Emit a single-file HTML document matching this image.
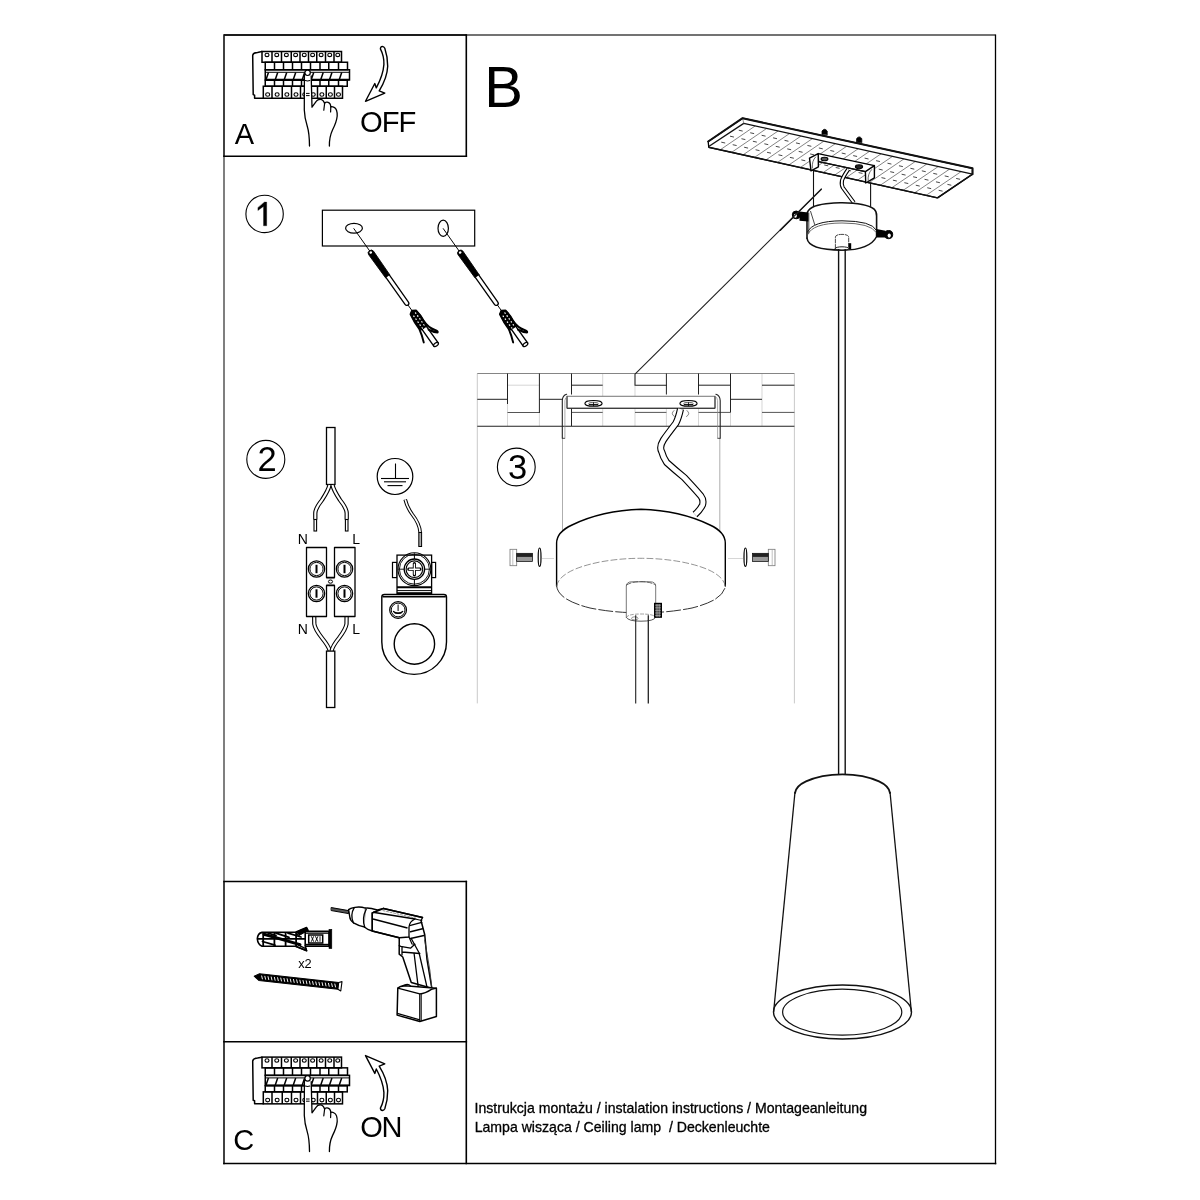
<!DOCTYPE html>
<html><head><meta charset="utf-8"><style>
html,body{margin:0;padding:0;background:#fff;width:1200px;height:1200px;overflow:hidden}
svg{display:block;will-change:transform}
text{font-family:"Liberation Sans",sans-serif;fill:#000;white-space:pre}
</style></head><body>
<svg width="1200" height="1200" viewBox="0 0 1200 1200">
<rect width="1200" height="1200" fill="#fff"/>
<line x1="224.00" y1="35.00" x2="995.50" y2="35.00" stroke="#444" stroke-width="1.3" />
<line x1="224.00" y1="35.00" x2="466.30" y2="35.00" stroke="#000" stroke-width="1.7" />
<line x1="224.00" y1="34.20" x2="224.00" y2="157.00" stroke="#111" stroke-width="1.6" />
<line x1="224.00" y1="156.20" x2="224.00" y2="881.50" stroke="#555" stroke-width="1.5" />
<line x1="224.00" y1="881.50" x2="224.00" y2="1164.30" stroke="#111" stroke-width="1.6" />
<line x1="995.50" y1="34.50" x2="995.50" y2="1164.30" stroke="#000" stroke-width="1.3" />
<line x1="223.20" y1="1163.50" x2="996.30" y2="1163.50" stroke="#000" stroke-width="1.4" />
<line x1="466.30" y1="34.20" x2="466.30" y2="157.00" stroke="#000" stroke-width="1.6" />
<line x1="223.20" y1="156.20" x2="467.10" y2="156.20" stroke="#000" stroke-width="1.6" />
<line x1="223.20" y1="881.50" x2="467.10" y2="881.50" stroke="#000" stroke-width="1.6" />
<line x1="466.30" y1="880.70" x2="466.30" y2="1164.30" stroke="#000" stroke-width="1.6" />
<line x1="223.20" y1="1041.70" x2="467.10" y2="1041.70" stroke="#000" stroke-width="1.6" />
<text x="484.24" y="106.90" font-size="58" >B</text>
<text x="234.64" y="143.70" font-size="29" >A</text>
<text x="360.02" y="131.80" font-size="29.2" letter-spacing="-1">OFF</text>
<text x="233.33" y="1150.40" font-size="29" >C</text>
<text x="360.33" y="1137.00" font-size="29" letter-spacing="-1.5">ON</text>
<text x="474.50" y="1112.90" font-size="14.1" stroke="#000" stroke-width="0.3">Instrukcja montażu / instalation instructions / Montageanleitung</text>
<text x="474.64" y="1131.90" font-size="14.1" stroke="#000" stroke-width="0.3">Lampa wisząca / Ceiling lamp  / Deckenleuchte</text>
<text x="298.16" y="967.50" font-size="12.8" >x2</text>
<text x="297.85" y="543.50" font-size="14" >N</text>
<text x="352.35" y="543.50" font-size="14" >L</text>
<text x="297.85" y="634.00" font-size="14" >N</text>
<text x="352.35" y="634.00" font-size="14" >L</text>
<circle cx="264.60" cy="213.90" r="18.70" fill="none" stroke="#000" stroke-width="1.1" />
<path d="M264.60,202.10 L266.70,202.10 L266.70,225.80 L263.50,225.80 L263.50,206.40 L257.90,210.60 L257.90,207.70 Z" fill="#000" stroke="#000" stroke-width="0.3" stroke-linejoin="round" stroke-linecap="round" />
<circle cx="265.80" cy="459.40" r="19.00" fill="none" stroke="#000" stroke-width="1.1" />
<text x="257.46" y="470.80" font-size="34.5" >2</text>
<circle cx="516.30" cy="467.00" r="18.90" fill="none" stroke="#000" stroke-width="1.1" />
<text x="507.89" y="479.00" font-size="34.5" >3</text>
<path d="M257.3,938.8 Q257.8,933.4 262,932.4 L295.4,932.2 L306.6,927.6 L308,930.4 L305.2,931.4 L329,931.4 L329,946.1 L305.2,946.1 L306.6,950.7 L295.4,946.3 L262,946.2 Q257.8,944.6 257.3,938.8 Z" fill="#fff" stroke="#000" stroke-width="1.6" stroke-linejoin="round" stroke-linecap="round" />
<line x1="257.60" y1="938.80" x2="305.20" y2="938.80" stroke="#000" stroke-width="1.8" />
<line x1="263.20" y1="932.60" x2="263.20" y2="946.00" stroke="#000" stroke-width="1.8" />
<line x1="274.40" y1="932.60" x2="274.40" y2="946.00" stroke="#000" stroke-width="1.8" />
<line x1="285.60" y1="932.60" x2="285.60" y2="946.00" stroke="#000" stroke-width="1.8" />
<line x1="296.10" y1="932.60" x2="296.10" y2="946.00" stroke="#000" stroke-width="1.8" />
<path d="M264,934.2 L300,944.6" fill="none" stroke="#000" stroke-width="3.0" stroke-linejoin="round" stroke-linecap="round" />
<path d="M262.5,941.5 L275,945.2 M276,933.2 L289,937.4 M288,933.2 L301,937 M268,933 L276,935.6" fill="none" stroke="#000" stroke-width="1.8" stroke-linejoin="round" stroke-linecap="round" />
<path d="M296,932.2 L306.6,927.6 L308,930.4 L299,935.6 Z" fill="#000" stroke="#000" stroke-width="1.0" stroke-linejoin="round" stroke-linecap="round" />
<path d="M296,946.3 L306.6,950.7 M298,944.8 L306.2,948.8" fill="none" stroke="#000" stroke-width="1.4" stroke-linejoin="round" stroke-linecap="round" />
<line x1="305.20" y1="931.40" x2="305.20" y2="946.10" stroke="#000" stroke-width="1.6" />
<rect x="308.70" y="935.00" width="14.00" height="8.00" fill="none" stroke="#000" stroke-width="1.5" />
<path d="M311.4,936.6 L313.6,941.4 M313.6,936.6 L311.4,941.4 M315.6,936.6 L317.8,941.4 M317.8,936.6 L315.6,941.4 M320,936.6 L320,941.4" fill="none" stroke="#000" stroke-width="0.9" stroke-linejoin="round" stroke-linecap="round" />
<line x1="305.20" y1="933.20" x2="329.00" y2="933.20" stroke="#000" stroke-width="1.2" />
<line x1="305.20" y1="944.40" x2="329.00" y2="944.40" stroke="#000" stroke-width="1.2" />
<rect x="329.00" y="929.30" width="2.80" height="19.30" fill="#000" stroke="#000" stroke-width="0.6" />
<g transform="translate(259.2,977.1) rotate(6.312)">
<path d="M-5.1,-0.3 L0,-3.3 L79.6,-3.3 L79.6,3.3 L0,3.3 Z" fill="#000" stroke="#000" stroke-width="1.0" stroke-linejoin="round" stroke-linecap="round" />
<path d="M2.20,-1.8 L3.50,1.8" stroke="#fff" stroke-width="0.9"/>
<path d="M5.40,-1.8 L6.70,1.8" stroke="#fff" stroke-width="0.9"/>
<path d="M8.60,-1.8 L9.90,1.8" stroke="#fff" stroke-width="0.9"/>
<path d="M11.80,-1.8 L13.10,1.8" stroke="#fff" stroke-width="0.9"/>
<path d="M15.00,-1.8 L16.30,1.8" stroke="#fff" stroke-width="0.9"/>
<path d="M18.20,-1.8 L19.50,1.8" stroke="#fff" stroke-width="0.9"/>
<path d="M21.40,-1.8 L22.70,1.8" stroke="#fff" stroke-width="0.9"/>
<path d="M24.60,-1.8 L25.90,1.8" stroke="#fff" stroke-width="0.9"/>
<path d="M27.80,-1.8 L29.10,1.8" stroke="#fff" stroke-width="0.9"/>
<path d="M31.00,-1.8 L32.30,1.8" stroke="#fff" stroke-width="0.9"/>
<path d="M34.20,-1.8 L35.50,1.8" stroke="#fff" stroke-width="0.9"/>
<path d="M37.40,-1.8 L38.70,1.8" stroke="#fff" stroke-width="0.9"/>
<path d="M40.60,-1.8 L41.90,1.8" stroke="#fff" stroke-width="0.9"/>
<path d="M43.80,-1.8 L45.10,1.8" stroke="#fff" stroke-width="0.9"/>
<path d="M47.00,-1.8 L48.30,1.8" stroke="#fff" stroke-width="0.9"/>
<path d="M50.20,-1.8 L51.50,1.8" stroke="#fff" stroke-width="0.9"/>
<path d="M53.40,-1.8 L54.70,1.8" stroke="#fff" stroke-width="0.9"/>
<path d="M56.60,-1.8 L57.90,1.8" stroke="#fff" stroke-width="0.9"/>
<path d="M59.80,-1.8 L61.10,1.8" stroke="#fff" stroke-width="0.9"/>
<path d="M63.00,-1.8 L64.30,1.8" stroke="#fff" stroke-width="0.9"/>
<path d="M66.20,-1.8 L67.50,1.8" stroke="#fff" stroke-width="0.9"/>
<path d="M69.40,-1.8 L70.70,1.8" stroke="#fff" stroke-width="0.9"/>
<path d="M72.60,-1.8 L73.90,1.8" stroke="#fff" stroke-width="0.9"/>
<path d="M75.80,-1.8 L77.10,1.8" stroke="#fff" stroke-width="0.9"/>
<path d="M79.6,-3.4 L82.8,-4.6 L82.6,4.8 L79.6,3.4 Z" fill="#fff" stroke="#000" stroke-width="1.1" stroke-linejoin="round" stroke-linecap="round" />
</g>
<path d="M331.5,907.6 L348.6,910.6 L348.6,913.6 L331.5,910.6 Z" fill="#555" stroke="#000" stroke-width="1.0" stroke-linejoin="round" stroke-linecap="round" />
<path d="M348.6,909.6 Q350,908.4 355,907.4 Q360,906.4 365.5,908.1 L365.5,927.2 Q358,925.6 353.5,922.8 Q349.8,920 349.75,916.75 Z" fill="#fff" stroke="#000" stroke-width="1.4" stroke-linejoin="round" stroke-linecap="round" />
<path d="M354.25,907.6 Q349.8,915 353.5,923" fill="none" stroke="#000" stroke-width="1.3" stroke-linejoin="round" stroke-linecap="round" />
<path d="M365.5,908.1 Q369,907.4 377.5,910 L383.5,908.5 L372.25,913 L372.25,931 Q367,929.4 364.75,927.25" fill="#fff" stroke="#000" stroke-width="1.4" stroke-linejoin="round" stroke-linecap="round" />
<path d="M366.25,909.25 Q361.6,918 364.75,927.25" fill="none" stroke="#000" stroke-width="1.3" stroke-linejoin="round" stroke-linecap="round" />
<path d="M372.25,913.00 L383.50,908.50 L422.50,917.50 L421.00,920.50 L424.75,934.75 L427.00,959.50 L431.80,988.20 L411.25,982.50 L402.75,957.00 L399.20,954.20 L399.25,937.75 L372.25,931.00 Z" fill="#fff" stroke="#000" stroke-width="1.5" stroke-linejoin="round" stroke-linecap="round" />
<line x1="373.00" y1="912.25" x2="415.00" y2="919.00" stroke="#000" stroke-width="1.3" />
<line x1="373.00" y1="919.00" x2="407.50" y2="928.00" stroke="#000" stroke-width="1.3" />
<line x1="372.25" y1="931.00" x2="399.25" y2="937.75" stroke="#000" stroke-width="1.3" />
<path d="M383.5,908.5 L422.5,917.5" fill="none" stroke="#000" stroke-width="1.3" stroke-linejoin="round" stroke-linecap="round" />
<path d="M383,910.6 L416,918.2" fill="none" stroke="#666" stroke-width="0.7" stroke-linejoin="round" stroke-linecap="round" stroke-dasharray="2 1.6"/>
<path d="M415,919 Q409.4,921.6 409,927 L409,937 L399.25,937.75" fill="none" stroke="#000" stroke-width="1.3" stroke-linejoin="round" stroke-linecap="round" />
<path d="M415,919 L421.75,920.5" fill="none" stroke="#000" stroke-width="1.2" stroke-linejoin="round" stroke-linecap="round" />
<path d="M409.6,925.6 L421.75,922.4 M410.5,931.75 L422.5,928.75 M410.5,938.5 L424,935.5" fill="none" stroke="#000" stroke-width="1.3" stroke-linejoin="round" stroke-linecap="round" />
<path d="M409,937 L412,944 L414.8,944.25" fill="none" stroke="#000" stroke-width="1.2" stroke-linejoin="round" stroke-linecap="round" />
<path d="M399.2,945.6 L402,947 L402,954.9 M400.6,946.4 L410.5,948.2 L414.8,944.25 M402,952 L419.8,953.5" fill="none" stroke="#000" stroke-width="1.3" stroke-linejoin="round" stroke-linecap="round" />
<path d="M411.25,938.5 L419.05,952.75 L427.6,989.6 M414.1,953.5 L418.35,988.2" fill="none" stroke="#000" stroke-width="1.3" stroke-linejoin="round" stroke-linecap="round" />
<path d="M424.7,940 L429.8,970 L431.6,986.4" fill="none" stroke="#333" stroke-width="0.9" stroke-linejoin="round" stroke-linecap="round" />
<path d="M397.80,988.20 L400.60,986.40 L405.00,985.80 L411.25,986.20 L436.40,988.20 L436.40,1016.50 L419.80,1021.50 L397.10,1015.10 Z" fill="#fff" stroke="#000" stroke-width="1.5" stroke-linejoin="round" stroke-linecap="round" />
<path d="M397.8,988.2 L419.8,993.9 Q425,993.6 431.4,989.4 L436.4,988.2" fill="none" stroke="#000" stroke-width="1.3" stroke-linejoin="round" stroke-linecap="round" />
<line x1="419.80" y1="993.90" x2="419.80" y2="1021.50" stroke="#000" stroke-width="1.3" />
<line x1="421.30" y1="993.60" x2="421.30" y2="1021.00" stroke="#000" stroke-width="0.9" />
<line x1="397.20" y1="1013.40" x2="419.80" y2="1019.80" stroke="#000" stroke-width="1.2" />
<path d="M402,986.1 Q408,982.8 410.5,986" fill="none" stroke="#000" stroke-width="1.2" stroke-linejoin="round" stroke-linecap="round" />
<path d="M742.60,118.20 L972.50,168.30 L972.50,174.20 L937.50,197.90 L708.75,147.30 L708.20,141.50 Z" fill="#fff" stroke="#000" stroke-width="1.3" stroke-linejoin="round" stroke-linecap="round" />
<line x1="755.19" y1="125.94" x2="720.19" y2="149.83" stroke="#333" stroke-width="0.6" />
<line x1="766.62" y1="128.48" x2="731.62" y2="152.36" stroke="#333" stroke-width="0.6" />
<line x1="778.06" y1="131.02" x2="743.06" y2="154.89" stroke="#333" stroke-width="0.6" />
<line x1="789.50" y1="133.56" x2="754.50" y2="157.42" stroke="#333" stroke-width="0.6" />
<line x1="800.94" y1="136.10" x2="765.94" y2="159.95" stroke="#333" stroke-width="0.6" />
<line x1="812.38" y1="138.64" x2="777.38" y2="162.48" stroke="#333" stroke-width="0.6" />
<line x1="823.81" y1="141.18" x2="788.81" y2="165.01" stroke="#333" stroke-width="0.6" />
<line x1="835.25" y1="143.72" x2="800.25" y2="167.54" stroke="#333" stroke-width="0.6" />
<line x1="846.69" y1="146.26" x2="811.69" y2="170.07" stroke="#333" stroke-width="0.6" />
<line x1="858.12" y1="148.80" x2="823.12" y2="172.60" stroke="#333" stroke-width="0.6" />
<line x1="869.56" y1="151.34" x2="834.56" y2="175.13" stroke="#333" stroke-width="0.6" />
<line x1="881.00" y1="153.88" x2="846.00" y2="177.66" stroke="#333" stroke-width="0.6" />
<line x1="892.44" y1="156.42" x2="857.44" y2="180.19" stroke="#333" stroke-width="0.6" />
<line x1="903.88" y1="158.96" x2="868.88" y2="182.72" stroke="#333" stroke-width="0.6" />
<line x1="915.31" y1="161.50" x2="880.31" y2="185.25" stroke="#333" stroke-width="0.6" />
<line x1="926.75" y1="164.04" x2="891.75" y2="187.78" stroke="#333" stroke-width="0.6" />
<line x1="938.19" y1="166.58" x2="903.19" y2="190.31" stroke="#333" stroke-width="0.6" />
<line x1="949.62" y1="169.12" x2="914.62" y2="192.84" stroke="#333" stroke-width="0.6" />
<line x1="961.06" y1="171.66" x2="926.06" y2="195.37" stroke="#333" stroke-width="0.6" />
<line x1="735.00" y1="129.38" x2="963.75" y2="180.12" stroke="#333" stroke-width="0.9" stroke-dasharray="4 7.72" stroke-dashoffset="7.86"/>
<line x1="726.25" y1="135.35" x2="955.00" y2="186.05" stroke="#333" stroke-width="0.9" stroke-dasharray="4 7.72" stroke-dashoffset="7.86"/>
<line x1="717.50" y1="141.33" x2="946.25" y2="191.97" stroke="#333" stroke-width="0.9" stroke-dasharray="4 7.72" stroke-dashoffset="7.86"/>
<path d="M709.5,146 L743.75,123.4 L972.5,174.2" fill="none" stroke="#111" stroke-width="1.3" stroke-linejoin="round" stroke-linecap="round" />
<line x1="742.60" y1="118.20" x2="743.75" y2="123.40" stroke="#777" stroke-width="0.8" />
<path d="M708.2,141.5 L742.6,118.2 L972.5,168.3 L972.5,174.2" fill="none" stroke="#111" stroke-width="2.0" stroke-linejoin="round" stroke-linecap="round" />
<line x1="708.75" y1="147.30" x2="937.50" y2="197.90" stroke="#111" stroke-width="1.4" />
<line x1="972.50" y1="174.20" x2="937.50" y2="197.90" stroke="#111" stroke-width="1.4" />
<path d="M822.0,134.2 L822.0,131.0 Q824.6,127.6 827.2,131.0 L827.2,134.79999999999998 Z" fill="#000" stroke="#000" stroke-width="0.8" stroke-linejoin="round" stroke-linecap="round" />
<path d="M856.6,141.8 L856.6,138.60000000000002 Q859.2,135.20000000000002 861.8000000000001,138.60000000000002 L861.8000000000001,142.4 Z" fill="#000" stroke="#000" stroke-width="0.8" stroke-linejoin="round" stroke-linecap="round" />
<path d="M818.20,153.60 L874.40,165.60 L874.40,171.20 L865.40,171.60 L818.60,161.60 Z" fill="#fff" stroke="#000" stroke-width="1.3" stroke-linejoin="round" stroke-linecap="round" />
<line x1="818.60" y1="161.60" x2="865.40" y2="171.60" stroke="#111" stroke-width="1.3" />
<path d="M809.50,158.20 L818.20,153.60 L818.40,166.80 L811.00,170.80 Z" fill="#fff" stroke="#000" stroke-width="1.4" stroke-linejoin="round" stroke-linecap="round" />
<path d="M812.4,168 Q811.6,161 815.6,157" fill="none" stroke="#444" stroke-width="0.8" stroke-linejoin="round" stroke-linecap="round" />
<path d="M865.40,171.60 L874.40,165.60 L874.40,177.80 L865.70,183.00 Z" fill="#fff" stroke="#000" stroke-width="1.4" stroke-linejoin="round" stroke-linecap="round" />
<path d="M868.2,181 Q867.4,174 871.6,169.6" fill="none" stroke="#444" stroke-width="0.8" stroke-linejoin="round" stroke-linecap="round" />
<ellipse cx="824.50" cy="159.00" rx="3.40" ry="1.80" fill="#555" stroke="#000" stroke-width="1.1" />
<ellipse cx="859.00" cy="166.80" rx="3.60" ry="1.90" fill="#222" stroke="#000" stroke-width="1.1" />
<line x1="813.50" y1="170.60" x2="813.50" y2="232.00" stroke="#111" stroke-width="1.1" />
<line x1="870.60" y1="182.80" x2="870.60" y2="207.00" stroke="#111" stroke-width="1.1" />
<path d="M848.3,169.2 Q843.5,176 842,180.4 Q841.2,185 842.8,187.6 L853.8,202.6" fill="none" stroke="#000" stroke-width="4.1" stroke-linecap="butt" stroke-linejoin="round"/>
<path d="M848.3,169.2 Q843.5,176 842,180.4 Q841.2,185 842.8,187.6 L853.8,202.6" fill="none" stroke="#fff" stroke-width="1.9" stroke-linecap="butt" stroke-linejoin="round"/>
<line x1="821.50" y1="189.00" x2="780.00" y2="230.50" stroke="#111" stroke-width="1.1" />
<path d="M807,215 Q807.5,202.8 842.2,202.8 Q876.6,202.8 876.6,215 L876.6,238 Q876.6,250 842,250 Q807,250 807,238 Z" fill="#fff" stroke="none"/>
<path d="M807,238.2 L807,214 Q808,206 826,203.8 Q836,202.6 842.2,202.8 Q866,203.2 874,209 Q876.8,211.5 876.6,216 L876.6,236" fill="none" stroke="#111" stroke-width="1.6" stroke-linejoin="round" stroke-linecap="round" />
<path d="M807,238.2 Q808.4,250 842,250.2 Q870,250 876.6,236.5" fill="none" stroke="#111" stroke-width="1.5" stroke-linejoin="round" stroke-linecap="round" />
<path d="M807.6,232 Q812,221 842,220.8 Q872,221 876.2,230" fill="none" stroke="#111" stroke-width="1.0" stroke-linejoin="round" stroke-linecap="round" />
<path d="M807.8,234.4 Q812.4,223.2 842,223 Q871,223.2 876,232.2" fill="none" stroke="#444" stroke-width="0.8" stroke-linejoin="round" stroke-linecap="round" />
<path d="M810.6,211.4 L814.7,224.6 M808.8,213 L808.8,233" fill="none" stroke="#333" stroke-width="0.9" stroke-linejoin="round" stroke-linecap="round" />
<path d="M835.4,248.5 L835.4,237 Q835.6,234.4 842,234.4 Q848.6,234.4 848.7,237 L848.7,247" fill="none" stroke="#333" stroke-width="0.9" stroke-linejoin="round" stroke-linecap="round" stroke-dasharray="4 1.5"/>
<ellipse cx="842.00" cy="248.60" rx="6.80" ry="1.80" fill="none" stroke="#222" stroke-width="1.0" />
<rect x="848.60" y="243.20" width="2.60" height="6.20" fill="#000" stroke="#000" stroke-width="0" />
<line x1="838.60" y1="249.00" x2="838.60" y2="774.80" stroke="#111" stroke-width="1.4" />
<line x1="845.20" y1="249.00" x2="845.20" y2="774.80" stroke="#111" stroke-width="1.4" />
<path d="M799.5,211.6 L808.4,212.4 L808.4,221.4 L799.5,220.8 Z" fill="#000"/>
<circle cx="796.20" cy="214.90" r="3.90" fill="#000" stroke="#000" stroke-width="1.0" />
<ellipse cx="795.40" cy="215.80" rx="1.50" ry="2.00" fill="#fff" stroke="#000" stroke-width="0" />
<line x1="780.00" y1="230.50" x2="793.00" y2="217.50" stroke="#111" stroke-width="1.1" />
<path d="M876.4,229 L885.6,230.8 L885.6,237.4 L876.4,237.6 Z" fill="#000"/>
<circle cx="888.60" cy="234.60" r="4.10" fill="#000" stroke="#000" stroke-width="1.0" />
<ellipse cx="889.20" cy="235.60" rx="1.60" ry="2.10" fill="#fff" stroke="#000" stroke-width="0" />
<path d="M795,793 Q796,786 806,781.4 Q821,774.6 842.5,774.4 Q864,774.6 879,781.4 Q889,786 890,793" fill="#fff" stroke="#111" stroke-width="1.8" stroke-linejoin="round" stroke-linecap="round" />
<line x1="795.00" y1="792.00" x2="773.60" y2="1012.00" stroke="#111" stroke-width="1.3" />
<line x1="890.00" y1="792.00" x2="911.40" y2="1012.00" stroke="#111" stroke-width="1.3" />
<ellipse cx="842.50" cy="1012.00" rx="69.00" ry="27.00" fill="none" stroke="#111" stroke-width="1.4" />
<ellipse cx="842.20" cy="1012.20" rx="59.60" ry="23.00" fill="none" stroke="#111" stroke-width="1.2" />
<line x1="477.30" y1="373.50" x2="477.30" y2="703.40" stroke="#bbb" stroke-width="0.8" />
<line x1="794.40" y1="373.50" x2="794.40" y2="703.40" stroke="#bbb" stroke-width="0.8" />
<line x1="507.50" y1="404.00" x2="507.50" y2="426.00" stroke="#c4c4c4" stroke-width="0.7" />
<line x1="507.50" y1="385.20" x2="539.40" y2="385.20" stroke="#c4c4c4" stroke-width="0.7" />
<line x1="539.40" y1="413.00" x2="539.40" y2="426.00" stroke="#c4c4c4" stroke-width="0.7" />
<line x1="602.70" y1="373.50" x2="602.70" y2="426.00" stroke="#c4c4c4" stroke-width="0.7" />
<line x1="571.50" y1="408.00" x2="571.50" y2="426.00" stroke="#c4c4c4" stroke-width="0.7" />
<line x1="666.40" y1="408.00" x2="666.40" y2="426.00" stroke="#c4c4c4" stroke-width="0.7" />
<line x1="698.50" y1="408.00" x2="698.50" y2="426.00" stroke="#c4c4c4" stroke-width="0.7" />
<line x1="730.50" y1="412.50" x2="730.50" y2="426.00" stroke="#c4c4c4" stroke-width="0.7" />
<line x1="762.00" y1="373.50" x2="762.00" y2="426.00" stroke="#c4c4c4" stroke-width="0.7" />
<line x1="603.00" y1="399.30" x2="635.00" y2="399.30" stroke="#c4c4c4" stroke-width="0.7" />
<line x1="635.00" y1="385.20" x2="635.00" y2="426.00" stroke="#c4c4c4" stroke-width="0.7" />
<line x1="477.30" y1="373.50" x2="794.40" y2="373.50" stroke="#777" stroke-width="0.9" />
<line x1="477.30" y1="426.20" x2="794.40" y2="426.20" stroke="#222" stroke-width="1.1" />
<line x1="507.50" y1="373.50" x2="507.50" y2="404.00" stroke="#222" stroke-width="1.0" />
<line x1="477.30" y1="399.30" x2="507.50" y2="399.30" stroke="#222" stroke-width="1.0" />
<line x1="507.50" y1="412.50" x2="539.40" y2="412.50" stroke="#555" stroke-width="1.0" />
<line x1="539.40" y1="373.50" x2="539.40" y2="413.00" stroke="#222" stroke-width="1.0" />
<line x1="539.40" y1="399.30" x2="562.30" y2="399.30" stroke="#222" stroke-width="1.0" />
<line x1="571.50" y1="373.50" x2="571.50" y2="394.50" stroke="#222" stroke-width="1.0" />
<line x1="571.50" y1="385.20" x2="602.70" y2="385.20" stroke="#222" stroke-width="1.0" />
<line x1="571.50" y1="412.40" x2="602.70" y2="412.40" stroke="#555" stroke-width="1.0" />
<line x1="635.00" y1="412.40" x2="666.40" y2="412.40" stroke="#555" stroke-width="1.0" />
<line x1="666.40" y1="373.50" x2="666.40" y2="394.50" stroke="#222" stroke-width="1.0" />
<line x1="698.50" y1="373.50" x2="698.50" y2="394.50" stroke="#222" stroke-width="1.0" />
<line x1="698.50" y1="385.20" x2="730.50" y2="385.20" stroke="#222" stroke-width="1.0" />
<line x1="730.50" y1="373.50" x2="730.50" y2="412.50" stroke="#222" stroke-width="1.0" />
<line x1="730.50" y1="399.30" x2="762.00" y2="399.30" stroke="#222" stroke-width="1.0" />
<line x1="762.00" y1="385.20" x2="794.40" y2="385.20" stroke="#222" stroke-width="1.0" />
<line x1="698.50" y1="412.40" x2="730.50" y2="412.40" stroke="#555" stroke-width="1.0" />
<line x1="762.00" y1="412.40" x2="794.40" y2="412.40" stroke="#555" stroke-width="1.0" />
<line x1="571.50" y1="408.30" x2="571.50" y2="426.00" stroke="#222" stroke-width="1.0" />
<path d="M821.5,189 L635,374.2 L635,385.2 L666.4,385.2" fill="none" stroke="#222" stroke-width="1.1" stroke-linejoin="round" stroke-linecap="round" />
<line x1="562.50" y1="438.00" x2="562.50" y2="546.00" stroke="#999" stroke-width="0.8" />
<line x1="719.80" y1="438.00" x2="719.80" y2="546.00" stroke="#999" stroke-width="0.8" />
<rect x="567.00" y="396.25" width="148.00" height="12.00" fill="#fff" stroke="#666" stroke-width="0.9" />
<line x1="567.00" y1="408.25" x2="715.00" y2="408.25" stroke="#222" stroke-width="1.2" />
<line x1="567.00" y1="396.25" x2="567.00" y2="408.25" stroke="#333" stroke-width="1.0" />
<line x1="715.00" y1="396.25" x2="715.00" y2="408.25" stroke="#333" stroke-width="1.0" />
<path d="M562.3,438.3 L562.3,400.5 Q562.6,395.2 566.6,394.2" fill="none" stroke="#222" stroke-width="1.1" stroke-linejoin="round" stroke-linecap="round" />
<path d="M564.9,438.3 L564.9,400.6 Q565.3,397.2 567,396.4" fill="none" stroke="#888" stroke-width="0.7" stroke-linejoin="round" stroke-linecap="round" />
<line x1="562.30" y1="438.30" x2="564.90" y2="438.30" stroke="#333" stroke-width="0.9" />
<path d="M720.2,438.3 L720.2,400.5 Q719.9,395.2 715.9,394.2" fill="none" stroke="#222" stroke-width="1.1" stroke-linejoin="round" stroke-linecap="round" />
<path d="M717.6,438.3 L717.6,400.6 Q717.2,397.2 715.5,396.4" fill="none" stroke="#888" stroke-width="0.7" stroke-linejoin="round" stroke-linecap="round" />
<line x1="717.60" y1="438.30" x2="720.20" y2="438.30" stroke="#333" stroke-width="0.9" />
<ellipse cx="593.50" cy="403.40" rx="8.60" ry="2.90" fill="none" stroke="#000" stroke-width="1.1" />
<ellipse cx="593.50" cy="403.90" rx="5.00" ry="1.60" fill="none" stroke="#333" stroke-width="0.7" />
<line x1="589.00" y1="404.40" x2="598.00" y2="404.40" stroke="#000" stroke-width="1.0" />
<line x1="593.50" y1="402.20" x2="593.50" y2="406.20" stroke="#000" stroke-width="0.8" />
<ellipse cx="688.50" cy="403.40" rx="8.60" ry="2.90" fill="none" stroke="#000" stroke-width="1.1" />
<ellipse cx="688.50" cy="403.90" rx="5.00" ry="1.60" fill="none" stroke="#333" stroke-width="0.7" />
<line x1="684.00" y1="404.40" x2="693.00" y2="404.40" stroke="#000" stroke-width="1.0" />
<line x1="688.50" y1="402.20" x2="688.50" y2="406.20" stroke="#000" stroke-width="0.8" />
<path d="M680.5,409 Q678.6,418 675.8,423.3 Q666,436 663.4,440 Q659,447 661.7,451.7 Q663,457 666.7,462.5 Q675,470 684.2,477.5 Q694,488 700.8,495.8 Q704,500 702.5,505 Q700,510 695,514.5" fill="none" stroke="#000" stroke-width="7.1" stroke-linecap="butt" stroke-linejoin="round"/>
<path d="M680.5,409 Q678.6,418 675.8,423.3 Q666,436 663.4,440 Q659,447 661.7,451.7 Q663,457 666.7,462.5 Q675,470 684.2,477.5 Q694,488 700.8,495.8 Q704,500 702.5,505 Q700,510 695,514.5" fill="none" stroke="#fff" stroke-width="4.9" stroke-linecap="butt" stroke-linejoin="round"/>
<path d="M674,410.5 Q670,414 674.5,416.5 M687,410.5 Q691,414 686.5,416.5" fill="none" stroke="#666" stroke-width="0.8" stroke-linejoin="round" stroke-linecap="round" />
<path d="M556.6,586 L556.6,543 Q556.8,532 572,525 Q602,510.5 641,509.3 Q680,510.5 710,525 Q725.2,532 725.3,543 L725.3,586" fill="#fff" stroke="#000" stroke-width="1.4" stroke-linejoin="round" stroke-linecap="round" />
<path d="M556.6,586 Q558,600 590,608 Q615,613 641,612.8 Q667,613 692,608 Q724,600 725.3,586" fill="none" stroke="#333" stroke-width="1.0" stroke-linejoin="round" stroke-linecap="round" stroke-dasharray="14 3"/>
<path d="M556.6,586 Q560,570 600,562 Q620,558.3 641,558.3 Q662,558.3 682,562 Q722,570 725.3,586" fill="none" stroke="#666" stroke-width="0.7" stroke-linejoin="round" stroke-linecap="round" stroke-dasharray="6 3"/>
<rect x="626.3" y="581.7" width="29.4" height="36" fill="#fff" stroke="none"/>
<path d="M626.3,617 L626.3,586 Q626.5,581.8 632,581.8 L650,581.8 Q655.6,581.8 655.7,586 L655.7,617" fill="none" stroke="#555" stroke-width="0.8" stroke-linejoin="round" stroke-linecap="round" />
<path d="M626.5,585 Q632,581.6 641,581.6 Q650,581.6 655.5,585" fill="none" stroke="#444" stroke-width="0.8" stroke-linejoin="round" stroke-linecap="round" stroke-dasharray="5 2"/>
<path d="M626.3,617.4 Q628,621.2 641,621.2 Q654,621.2 655.7,617.4" fill="none" stroke="#444" stroke-width="0.9" stroke-linejoin="round" stroke-linecap="round" />
<path d="M626.3,617.4 Q628,614 641,614 Q654,614 655.7,617.4" fill="none" stroke="#777" stroke-width="0.7" stroke-linejoin="round" stroke-linecap="round" stroke-dasharray="3 2"/>
<ellipse cx="634.80" cy="618.40" rx="3.20" ry="1.60" fill="none" stroke="#666" stroke-width="0.7" />
<rect x="654.60" y="603.40" width="6.80" height="13.80" fill="#333" stroke="#000" stroke-width="1.2" />
<line x1="655.20" y1="605.20" x2="660.80" y2="605.20" stroke="#ddd" stroke-width="0.5" />
<line x1="655.20" y1="607.80" x2="660.80" y2="607.80" stroke="#ddd" stroke-width="0.5" />
<line x1="655.20" y1="610.40" x2="660.80" y2="610.40" stroke="#ddd" stroke-width="0.5" />
<line x1="655.20" y1="613.00" x2="660.80" y2="613.00" stroke="#ddd" stroke-width="0.5" />
<line x1="655.20" y1="615.60" x2="660.80" y2="615.60" stroke="#ddd" stroke-width="0.5" />
<line x1="657.00" y1="604.00" x2="657.00" y2="617.00" stroke="#ccc" stroke-width="0.6" />
<line x1="659.20" y1="604.00" x2="659.20" y2="617.00" stroke="#ccc" stroke-width="0.6" />
<line x1="635.70" y1="615.30" x2="635.70" y2="703.40" stroke="#222" stroke-width="1.1" />
<line x1="648.30" y1="615.30" x2="648.30" y2="703.40" stroke="#222" stroke-width="1.3" />
<rect x="510.00" y="549.30" width="6.70" height="16.40" fill="#fff" stroke="#777" stroke-width="0.8" />
<line x1="512.80" y1="549.60" x2="512.80" y2="565.40" stroke="#999" stroke-width="0.6" />
<rect x="516.70" y="553.30" width="15.80" height="8.20" fill="#999" stroke="#000" stroke-width="0.7" />
<rect x="516.7" y="553.3" width="15.8" height="3.6" fill="#222"/>
<ellipse cx="539.60" cy="557.20" rx="1.40" ry="9.20" fill="none" stroke="#000" stroke-width="1.2" />
<line x1="542.00" y1="558.50" x2="554.00" y2="558.50" stroke="#bbb" stroke-width="0.6" />
<rect x="768.30" y="549.30" width="6.70" height="16.40" fill="#fff" stroke="#777" stroke-width="0.8" />
<line x1="772.20" y1="549.60" x2="772.20" y2="565.40" stroke="#999" stroke-width="0.6" />
<rect x="752.50" y="553.30" width="15.80" height="8.20" fill="#999" stroke="#000" stroke-width="0.7" />
<rect x="752.5" y="553.3" width="15.8" height="3.6" fill="#222"/>
<ellipse cx="745.40" cy="557.20" rx="1.40" ry="9.20" fill="none" stroke="#000" stroke-width="1.2" />
<line x1="728.00" y1="558.50" x2="743.00" y2="558.50" stroke="#bbb" stroke-width="0.6" />
<rect x="326.50" y="427.50" width="8.50" height="57.00" fill="none" stroke="#000" stroke-width="1.3" />
<path d="M329.5,485 Q328.5,490 322,500 Q315.6,508 315.3,513 L315.3,519.5" fill="none" stroke="#000" stroke-width="4.300000000000001" stroke-linecap="butt" stroke-linejoin="round"/>
<path d="M329.5,485 Q328.5,490 322,500 Q315.6,508 315.3,513 L315.3,519.5" fill="none" stroke="#fff" stroke-width="2.1" stroke-linecap="butt" stroke-linejoin="round"/>
<path d="M332.5,485 Q333.5,490 340,500 Q346.4,508 346.7,513 L346.7,519.5" fill="none" stroke="#000" stroke-width="4.300000000000001" stroke-linecap="butt" stroke-linejoin="round"/>
<path d="M332.5,485 Q333.5,490 340,500 Q346.4,508 346.7,513 L346.7,519.5" fill="none" stroke="#fff" stroke-width="2.1" stroke-linecap="butt" stroke-linejoin="round"/>
<rect x="314.00" y="519.50" width="2.60" height="11.50" fill="#fff" stroke="#000" stroke-width="1.1" />
<rect x="345.40" y="519.50" width="2.60" height="11.50" fill="#fff" stroke="#000" stroke-width="1.1" />
<path d="M314.2,616.5 L314.3,624 Q315,629 322,638 Q328.5,646 330,651.2" fill="none" stroke="#000" stroke-width="4.300000000000001" stroke-linecap="butt" stroke-linejoin="round"/>
<path d="M314.2,616.5 L314.3,624 Q315,629 322,638 Q328.5,646 330,651.2" fill="none" stroke="#fff" stroke-width="2.1" stroke-linecap="butt" stroke-linejoin="round"/>
<path d="M346.6,616.5 L346.5,624 Q345.8,629 339,638 Q332.5,646 331.5,651.2" fill="none" stroke="#000" stroke-width="4.300000000000001" stroke-linecap="butt" stroke-linejoin="round"/>
<path d="M346.6,616.5 L346.5,624 Q345.8,629 339,638 Q332.5,646 331.5,651.2" fill="none" stroke="#fff" stroke-width="2.1" stroke-linecap="butt" stroke-linejoin="round"/>
<rect x="326.50" y="651.10" width="8.30" height="56.40" fill="#fff" stroke="#000" stroke-width="1.3" />
<path d="M306.5,547.5 L326.5,547.5 L326.5,577.5 L334.5,577.5 L334.5,547.5 L355,547.5 L355,616.5 L334.5,616.5 L334.5,585.5 L326.5,585.5 L326.5,616.5 L306.5,616.5 Z" fill="#fff" stroke="#000" stroke-width="1.3" stroke-linejoin="round" stroke-linecap="round" />
<path d="M326.8,578.6 L334.2,578.6 M326.8,584.4 L334.2,584.4" fill="none" stroke="#555" stroke-width="0.8" stroke-linejoin="round" stroke-linecap="round" />
<ellipse cx="330.50" cy="581.60" rx="2.10" ry="1.60" fill="none" stroke="#000" stroke-width="1.0" />
<circle cx="316.50" cy="569.00" r="8.20" fill="none" stroke="#000" stroke-width="1.2" />
<circle cx="316.50" cy="569.00" r="6.60" fill="none" stroke="#000" stroke-width="1.0" />
<line x1="316.50" y1="564.80" x2="316.50" y2="573.20" stroke="#000" stroke-width="2.0" />
<circle cx="316.50" cy="593.50" r="8.20" fill="none" stroke="#000" stroke-width="1.2" />
<circle cx="316.50" cy="593.50" r="6.60" fill="none" stroke="#000" stroke-width="1.0" />
<line x1="316.50" y1="589.30" x2="316.50" y2="597.70" stroke="#000" stroke-width="2.0" />
<circle cx="344.50" cy="569.00" r="8.20" fill="none" stroke="#000" stroke-width="1.2" />
<circle cx="344.50" cy="569.00" r="6.60" fill="none" stroke="#000" stroke-width="1.0" />
<line x1="344.50" y1="564.80" x2="344.50" y2="573.20" stroke="#000" stroke-width="2.0" />
<circle cx="344.50" cy="593.50" r="8.20" fill="none" stroke="#000" stroke-width="1.2" />
<circle cx="344.50" cy="593.50" r="6.60" fill="none" stroke="#000" stroke-width="1.0" />
<line x1="344.50" y1="589.30" x2="344.50" y2="597.70" stroke="#000" stroke-width="2.0" />
<ellipse cx="395.00" cy="476.50" rx="17.80" ry="18.00" fill="none" stroke="#000" stroke-width="1.2" />
<line x1="395.50" y1="463.50" x2="395.50" y2="478.50" stroke="#000" stroke-width="1.1" />
<line x1="381.00" y1="478.50" x2="409.00" y2="478.50" stroke="#000" stroke-width="1.1" />
<line x1="384.00" y1="481.80" x2="406.00" y2="481.80" stroke="#000" stroke-width="1.1" />
<line x1="387.50" y1="485.60" x2="402.50" y2="485.60" stroke="#000" stroke-width="1.1" />
<path d="M405.2,499.5 Q407,507 412,514 Q419.8,524 420.2,532.5" fill="none" stroke="#000" stroke-width="3.6" stroke-linecap="butt" stroke-linejoin="round"/>
<path d="M405.2,499.5 Q407,507 412,514 Q419.8,524 420.2,532.5" fill="none" stroke="#fff" stroke-width="1.6" stroke-linecap="butt" stroke-linejoin="round"/>
<rect x="418.80" y="532.50" width="2.80" height="14.00" fill="#aaa" stroke="#000" stroke-width="1.0" />
<path d="M381.8,597 Q381.8,594.5 384.5,594.5 L443.8,594.5 Q446.5,594.5 446.5,597 L446.5,642 A32.35,32.35 0 0 1 381.8,642 Z" fill="#fff" stroke="#000" stroke-width="1.4" stroke-linejoin="round" stroke-linecap="round" />
<line x1="382.50" y1="596.80" x2="445.80" y2="596.80" stroke="#000" stroke-width="1.6" />
<circle cx="414.40" cy="644.00" r="20.20" fill="none" stroke="#000" stroke-width="1.4" />
<circle cx="398.10" cy="610.00" r="8.40" fill="none" stroke="#000" stroke-width="1.2" />
<circle cx="398.10" cy="610.00" r="6.90" fill="none" stroke="#000" stroke-width="1.0" />
<line x1="398.10" y1="604.50" x2="398.10" y2="611.00" stroke="#000" stroke-width="1.0" />
<path d="M393.5,611.5 Q398.1,615.5 402.7,611.5" fill="none" stroke="#000" stroke-width="1.2" stroke-linejoin="round" stroke-linecap="round" />
<line x1="394.50" y1="612.80" x2="401.70" y2="612.80" stroke="#000" stroke-width="1.0" />
<rect x="392.50" y="562.40" width="4.50" height="15.20" fill="#fff" stroke="#000" stroke-width="1.2" />
<rect x="431.60" y="562.40" width="4.00" height="15.20" fill="#fff" stroke="#000" stroke-width="1.2" />
<rect x="397.00" y="555.10" width="34.60" height="38.30" fill="#fff" stroke="#000" stroke-width="1.3" />
<line x1="397.00" y1="587.20" x2="431.60" y2="587.20" stroke="#000" stroke-width="2.0" />
<line x1="397.00" y1="590.60" x2="431.60" y2="590.60" stroke="#000" stroke-width="1.0" />
<line x1="397.00" y1="593.40" x2="431.60" y2="593.40" stroke="#000" stroke-width="2.2" />
<circle cx="414.40" cy="569.20" r="16.40" fill="none" stroke="#000" stroke-width="1.1" />
<circle cx="414.40" cy="569.20" r="15.00" fill="none" stroke="#000" stroke-width="0.9" />
<line x1="414.40" y1="553.40" x2="414.40" y2="585.00" stroke="#000" stroke-width="1.0" />
<line x1="398.20" y1="569.20" x2="430.60" y2="569.20" stroke="#000" stroke-width="0.9" />
<circle cx="414.40" cy="569.20" r="10.20" fill="#fff" stroke="#000" stroke-width="1.3" />
<circle cx="414.40" cy="569.20" r="8.30" fill="none" stroke="#000" stroke-width="1.1" />
<path d="M408.8,569.2 L420,569.2 M414.4,563.6 L414.4,574.8" fill="none" stroke="#000" stroke-width="3.2" stroke-linejoin="round" stroke-linecap="round" />
<path d="M409.4,569.2 L419.4,569.2 M414.4,564.2 L414.4,574.2" fill="none" stroke="#fff" stroke-width="1.4" stroke-linejoin="round" stroke-linecap="round" />
<rect x="322.40" y="210.20" width="152.30" height="35.80" fill="none" stroke="#000" stroke-width="1.2" />
<ellipse cx="354.00" cy="228.30" rx="8.40" ry="4.90" fill="none" stroke="#000" stroke-width="1.2" />
<ellipse cx="443.20" cy="228.30" rx="5.20" ry="8.10" fill="none" stroke="#000" stroke-width="1.2" />
<g transform="translate(371.00,252.80) rotate(54.670)">
<line x1="-30.00" y1="0.00" x2="0.00" y2="0.00" stroke="#000" stroke-width="0.9" />
<path d="M-2.6,0 Q-2.6,-3 0,-3 L29,-2.6 L29,2.6 L0,3 Q-2.6,3 -2.6,0 Z" fill="#000" stroke="#000" stroke-width="0.8" stroke-linejoin="round" stroke-linecap="round" />
<ellipse cx="-0.40" cy="0.00" rx="1.20" ry="1.40" fill="#fff" stroke="#000" stroke-width="0" />
<path d="M29,-2.1 L61.5,-2.1 Q64,-2.1 64,0 Q64,2.1 61.5,2.1 L29,2.1" fill="#fff" stroke="#000" stroke-width="1.3" stroke-linejoin="round" stroke-linecap="round" />
<line x1="64.00" y1="0.00" x2="71.00" y2="0.00" stroke="#000" stroke-width="0.9" />
<path d="M71,0 L73,-3.4 Q80,-4.6 86,-3.6 Q94,-3.2 100,-7.6 Q103,-9.6 103.6,-8.2 Q101,-5 96,-2.6 M71,0 L73,3.2 Q82,4.8 90,4.6 Q97,6 103.6,8.8" fill="none" stroke="#000" stroke-width="2.0" stroke-linejoin="round" stroke-linecap="round" />
<path d="M71,0 L73,-3.4 Q80,-4.6 86,-3.8 L92,-3.4 L92,3.6 L82,4.4 L73,3.2 Z" fill="#000" stroke="#000" stroke-width="1.0" stroke-linejoin="round" stroke-linecap="round" />
<ellipse cx="75.00" cy="-1.60" rx="0.90" ry="0.70" fill="#fff" stroke="#000" stroke-width="0" />
<ellipse cx="76.60" cy="1.70" rx="0.90" ry="0.70" fill="#fff" stroke="#000" stroke-width="0" />
<ellipse cx="78.60" cy="-1.60" rx="0.90" ry="0.70" fill="#fff" stroke="#000" stroke-width="0" />
<ellipse cx="80.20" cy="1.70" rx="0.90" ry="0.70" fill="#fff" stroke="#000" stroke-width="0" />
<ellipse cx="82.20" cy="-1.60" rx="0.90" ry="0.70" fill="#fff" stroke="#000" stroke-width="0" />
<ellipse cx="83.80" cy="1.70" rx="0.90" ry="0.70" fill="#fff" stroke="#000" stroke-width="0" />
<ellipse cx="85.80" cy="-1.60" rx="0.90" ry="0.70" fill="#fff" stroke="#000" stroke-width="0" />
<ellipse cx="87.40" cy="1.70" rx="0.90" ry="0.70" fill="#fff" stroke="#000" stroke-width="0" />
<ellipse cx="89.40" cy="-1.60" rx="0.90" ry="0.70" fill="#fff" stroke="#000" stroke-width="0" />
<ellipse cx="91.00" cy="1.70" rx="0.90" ry="0.70" fill="#fff" stroke="#000" stroke-width="0" />
<path d="M92,-2.7 L112.4,-2.7 M92,2.7 L112.4,2.7" fill="none" stroke="#000" stroke-width="1.4" stroke-linejoin="round" stroke-linecap="round" />
<path d="M86,-3.4 L92,-2.7 M86,3.8 L92,2.7" fill="none" stroke="#000" stroke-width="1.4" stroke-linejoin="round" stroke-linecap="round" />
<ellipse cx="112.40" cy="0.00" rx="1.60" ry="2.70" fill="#fff" stroke="#000" stroke-width="1.3" />
</g>
<g transform="translate(460.40,252.80) rotate(54.670)">
<line x1="-30.00" y1="0.00" x2="0.00" y2="0.00" stroke="#000" stroke-width="0.9" />
<path d="M-2.6,0 Q-2.6,-3 0,-3 L29,-2.6 L29,2.6 L0,3 Q-2.6,3 -2.6,0 Z" fill="#000" stroke="#000" stroke-width="0.8" stroke-linejoin="round" stroke-linecap="round" />
<ellipse cx="-0.40" cy="0.00" rx="1.20" ry="1.40" fill="#fff" stroke="#000" stroke-width="0" />
<path d="M29,-2.1 L61.5,-2.1 Q64,-2.1 64,0 Q64,2.1 61.5,2.1 L29,2.1" fill="#fff" stroke="#000" stroke-width="1.3" stroke-linejoin="round" stroke-linecap="round" />
<line x1="64.00" y1="0.00" x2="71.00" y2="0.00" stroke="#000" stroke-width="0.9" />
<path d="M71,0 L73,-3.4 Q80,-4.6 86,-3.6 Q94,-3.2 100,-7.6 Q103,-9.6 103.6,-8.2 Q101,-5 96,-2.6 M71,0 L73,3.2 Q82,4.8 90,4.6 Q97,6 103.6,8.8" fill="none" stroke="#000" stroke-width="2.0" stroke-linejoin="round" stroke-linecap="round" />
<path d="M71,0 L73,-3.4 Q80,-4.6 86,-3.8 L92,-3.4 L92,3.6 L82,4.4 L73,3.2 Z" fill="#000" stroke="#000" stroke-width="1.0" stroke-linejoin="round" stroke-linecap="round" />
<ellipse cx="75.00" cy="-1.60" rx="0.90" ry="0.70" fill="#fff" stroke="#000" stroke-width="0" />
<ellipse cx="76.60" cy="1.70" rx="0.90" ry="0.70" fill="#fff" stroke="#000" stroke-width="0" />
<ellipse cx="78.60" cy="-1.60" rx="0.90" ry="0.70" fill="#fff" stroke="#000" stroke-width="0" />
<ellipse cx="80.20" cy="1.70" rx="0.90" ry="0.70" fill="#fff" stroke="#000" stroke-width="0" />
<ellipse cx="82.20" cy="-1.60" rx="0.90" ry="0.70" fill="#fff" stroke="#000" stroke-width="0" />
<ellipse cx="83.80" cy="1.70" rx="0.90" ry="0.70" fill="#fff" stroke="#000" stroke-width="0" />
<ellipse cx="85.80" cy="-1.60" rx="0.90" ry="0.70" fill="#fff" stroke="#000" stroke-width="0" />
<ellipse cx="87.40" cy="1.70" rx="0.90" ry="0.70" fill="#fff" stroke="#000" stroke-width="0" />
<ellipse cx="89.40" cy="-1.60" rx="0.90" ry="0.70" fill="#fff" stroke="#000" stroke-width="0" />
<ellipse cx="91.00" cy="1.70" rx="0.90" ry="0.70" fill="#fff" stroke="#000" stroke-width="0" />
<path d="M92,-2.7 L112.4,-2.7 M92,2.7 L112.4,2.7" fill="none" stroke="#000" stroke-width="1.4" stroke-linejoin="round" stroke-linecap="round" />
<path d="M86,-3.4 L92,-2.7 M86,3.8 L92,2.7" fill="none" stroke="#000" stroke-width="1.4" stroke-linejoin="round" stroke-linecap="round" />
<ellipse cx="112.40" cy="0.00" rx="1.60" ry="2.70" fill="#fff" stroke="#000" stroke-width="1.3" />
</g>
<path d="M262,51.6 L257.5,52.4 Q253,52.8 252.7,55.5 L253.2,94.6 L254.6,95.2 L254.6,98.2 L263.3,98.2" fill="none" stroke="#000" stroke-width="1.5" stroke-linejoin="round" stroke-linecap="round" />
<rect x="262.00" y="51.50" width="79.50" height="10.75" fill="none" stroke="#000" stroke-width="1.5" />
<line x1="272.00" y1="51.50" x2="272.00" y2="62.25" stroke="#000" stroke-width="1.5" />
<line x1="281.50" y1="51.50" x2="281.50" y2="62.25" stroke="#000" stroke-width="1.5" />
<line x1="291.25" y1="51.50" x2="291.25" y2="62.25" stroke="#000" stroke-width="1.5" />
<line x1="300.00" y1="51.50" x2="300.00" y2="62.25" stroke="#000" stroke-width="1.5" />
<line x1="308.50" y1="51.50" x2="308.50" y2="62.25" stroke="#000" stroke-width="1.5" />
<line x1="316.75" y1="51.50" x2="316.75" y2="62.25" stroke="#000" stroke-width="1.5" />
<line x1="325.50" y1="51.50" x2="325.50" y2="62.25" stroke="#000" stroke-width="1.5" />
<line x1="334.00" y1="51.50" x2="334.00" y2="62.25" stroke="#000" stroke-width="1.5" />
<ellipse cx="267.00" cy="54.90" rx="2.00" ry="1.70" fill="none" stroke="#000" stroke-width="1.1" />
<ellipse cx="276.75" cy="54.90" rx="2.00" ry="1.70" fill="none" stroke="#000" stroke-width="1.1" />
<ellipse cx="286.38" cy="54.90" rx="2.00" ry="1.70" fill="none" stroke="#000" stroke-width="1.1" />
<ellipse cx="295.62" cy="54.90" rx="2.00" ry="1.70" fill="none" stroke="#000" stroke-width="1.1" />
<ellipse cx="304.25" cy="54.90" rx="2.00" ry="1.70" fill="none" stroke="#000" stroke-width="1.1" />
<ellipse cx="312.62" cy="54.90" rx="2.00" ry="1.70" fill="none" stroke="#000" stroke-width="1.1" />
<ellipse cx="321.12" cy="54.90" rx="2.00" ry="1.70" fill="none" stroke="#000" stroke-width="1.1" />
<ellipse cx="329.75" cy="54.90" rx="2.00" ry="1.70" fill="none" stroke="#000" stroke-width="1.1" />
<ellipse cx="337.75" cy="54.90" rx="2.00" ry="1.70" fill="none" stroke="#000" stroke-width="1.1" />
<rect x="265.25" y="62.25" width="82.25" height="7.50" fill="none" stroke="#000" stroke-width="1.5" />
<line x1="274.50" y1="62.25" x2="274.50" y2="69.75" stroke="#000" stroke-width="1.5" />
<line x1="283.50" y1="62.25" x2="283.50" y2="69.75" stroke="#000" stroke-width="1.5" />
<line x1="292.50" y1="62.25" x2="292.50" y2="69.75" stroke="#000" stroke-width="1.5" />
<line x1="301.50" y1="62.25" x2="301.50" y2="69.75" stroke="#000" stroke-width="1.5" />
<line x1="310.50" y1="62.25" x2="310.50" y2="69.75" stroke="#000" stroke-width="1.5" />
<line x1="320.00" y1="62.25" x2="320.00" y2="69.75" stroke="#000" stroke-width="1.5" />
<line x1="328.75" y1="62.25" x2="328.75" y2="69.75" stroke="#000" stroke-width="1.5" />
<line x1="338.50" y1="62.25" x2="338.50" y2="69.75" stroke="#000" stroke-width="1.5" />
<rect x="265.25" y="69.75" width="84.25" height="10.20" fill="none" stroke="#000" stroke-width="1.5" />
<line x1="265.25" y1="72.30" x2="349.50" y2="72.30" stroke="#000" stroke-width="1.0" />
<line x1="265.25" y1="79.60" x2="349.50" y2="79.60" stroke="#000" stroke-width="1.6" />
<line x1="266.05" y1="79.50" x2="268.45" y2="72.40" stroke="#000" stroke-width="1.5" />
<line x1="275.30" y1="79.50" x2="277.70" y2="72.40" stroke="#000" stroke-width="1.5" />
<line x1="284.30" y1="79.50" x2="286.70" y2="72.40" stroke="#000" stroke-width="1.5" />
<line x1="293.30" y1="79.50" x2="295.70" y2="72.40" stroke="#000" stroke-width="1.5" />
<line x1="302.30" y1="79.50" x2="304.70" y2="72.40" stroke="#000" stroke-width="1.5" />
<line x1="311.30" y1="79.50" x2="313.70" y2="72.40" stroke="#000" stroke-width="1.5" />
<line x1="320.80" y1="79.50" x2="323.20" y2="72.40" stroke="#000" stroke-width="1.5" />
<line x1="329.55" y1="79.50" x2="331.95" y2="72.40" stroke="#000" stroke-width="1.5" />
<line x1="339.30" y1="79.50" x2="341.70" y2="72.40" stroke="#000" stroke-width="1.5" />
<rect x="265.25" y="80.20" width="82.00" height="6.05" fill="none" stroke="#000" stroke-width="1.5" />
<line x1="274.50" y1="80.20" x2="274.50" y2="86.25" stroke="#000" stroke-width="1.5" />
<line x1="283.50" y1="80.20" x2="283.50" y2="86.25" stroke="#000" stroke-width="1.5" />
<line x1="292.50" y1="80.20" x2="292.50" y2="86.25" stroke="#000" stroke-width="1.5" />
<line x1="301.50" y1="80.20" x2="301.50" y2="86.25" stroke="#000" stroke-width="1.5" />
<line x1="310.50" y1="80.20" x2="310.50" y2="86.25" stroke="#000" stroke-width="1.5" />
<line x1="320.00" y1="80.20" x2="320.00" y2="86.25" stroke="#000" stroke-width="1.5" />
<line x1="328.75" y1="80.20" x2="328.75" y2="86.25" stroke="#000" stroke-width="1.5" />
<line x1="338.50" y1="80.20" x2="338.50" y2="86.25" stroke="#000" stroke-width="1.5" />
<rect x="263.30" y="86.25" width="79.20" height="12.00" fill="none" stroke="#000" stroke-width="1.5" />
<line x1="272.00" y1="86.25" x2="272.00" y2="98.25" stroke="#000" stroke-width="1.5" />
<line x1="282.25" y1="86.25" x2="282.25" y2="98.25" stroke="#000" stroke-width="1.5" />
<line x1="291.50" y1="86.25" x2="291.50" y2="98.25" stroke="#000" stroke-width="1.5" />
<line x1="300.50" y1="86.25" x2="300.50" y2="98.25" stroke="#000" stroke-width="1.5" />
<line x1="309.00" y1="86.25" x2="309.00" y2="98.25" stroke="#000" stroke-width="1.5" />
<line x1="317.50" y1="86.25" x2="317.50" y2="98.25" stroke="#000" stroke-width="1.5" />
<line x1="326.25" y1="86.25" x2="326.25" y2="98.25" stroke="#000" stroke-width="1.5" />
<line x1="334.50" y1="86.25" x2="334.50" y2="98.25" stroke="#000" stroke-width="1.5" />
<ellipse cx="267.65" cy="94.50" rx="2.00" ry="1.80" fill="none" stroke="#000" stroke-width="1.1" />
<ellipse cx="277.12" cy="94.50" rx="2.00" ry="1.80" fill="none" stroke="#000" stroke-width="1.1" />
<ellipse cx="286.88" cy="94.50" rx="2.00" ry="1.80" fill="none" stroke="#000" stroke-width="1.1" />
<ellipse cx="296.00" cy="94.50" rx="2.00" ry="1.80" fill="none" stroke="#000" stroke-width="1.1" />
<ellipse cx="304.75" cy="94.50" rx="2.00" ry="1.80" fill="none" stroke="#000" stroke-width="1.1" />
<ellipse cx="313.25" cy="94.50" rx="2.00" ry="1.80" fill="none" stroke="#000" stroke-width="1.1" />
<ellipse cx="321.88" cy="94.50" rx="2.00" ry="1.80" fill="none" stroke="#000" stroke-width="1.1" />
<ellipse cx="330.38" cy="94.50" rx="2.00" ry="1.80" fill="none" stroke="#000" stroke-width="1.1" />
<ellipse cx="338.50" cy="94.50" rx="2.00" ry="1.80" fill="none" stroke="#000" stroke-width="1.1" />
<path d="M304.4,74 L304.3,110 Q304.6,118 307.2,126 Q309.4,133 309.5,147 L329.4,147 Q329.2,137 332.5,130 Q336.6,122 337.2,116 Q337.4,109 334.2,107.4 L316.4,101.2 L312,107.2 L311.2,76 Z" fill="#fff" stroke="none"/>
<path d="M304.4,74 L304.3,110 Q304.6,118 307.2,126 Q309.4,133 309.5,146 M329.4,146 Q329.2,137 332.5,130 Q336.6,122 337.2,116 Q337.4,109 334.2,107.4 Q331.6,106 330.8,107 Q330.6,102.6 327.2,102.2 Q324.8,102 324.6,103.6 Q323.4,99.2 320,99.3 Q317.6,99.4 316.4,101.2 L312,107.2 L311.2,76" fill="none" stroke="#000" stroke-width="1.3" stroke-linejoin="round" stroke-linecap="round" />
<path d="M324.6,103.6 L323.8,110.2 M330.8,107 L330.6,112" fill="none" stroke="#000" stroke-width="1.2" stroke-linejoin="round" stroke-linecap="round" />
<circle cx="307.60" cy="72.80" r="2.70" fill="#fff" stroke="#000" stroke-width="1.2" />
<path d="M305.4,80.5 Q307.6,81.4 309.8,80.5" fill="none" stroke="#000" stroke-width="1.1" stroke-linejoin="round" stroke-linecap="round" />
<line x1="306.00" y1="93.40" x2="309.60" y2="93.40" stroke="#000" stroke-width="1.0" />
<line x1="306.00" y1="95.60" x2="309.60" y2="95.60" stroke="#000" stroke-width="1.0" />
<path d="M382.4,46.4 Q384,46.6 384.8,48.2 Q387.8,57 387.7,66.3 Q387.2,78 379.2,90.8 L384.8,93.1 L365.5,101.3 L374.8,83.5 L376.3,87.9 Q383.2,75 383.9,64.5 Q384.2,56 380.4,48.8 Q380.6,46.4 382.4,46.4 Z" fill="#fff" stroke="#000" stroke-width="1.4" stroke-linejoin="round" stroke-linecap="round" />
<path d="M262,1057.2 L257.5,1058.0 Q253,1058.4 252.7,1061.1 L253.2,1100.2 L254.6,1100.8 L254.6,1103.8 L263.3,1103.8" fill="none" stroke="#000" stroke-width="1.5" stroke-linejoin="round" stroke-linecap="round" />
<rect x="262.00" y="1057.10" width="79.50" height="10.75" fill="none" stroke="#000" stroke-width="1.5" />
<line x1="272.00" y1="1057.10" x2="272.00" y2="1067.85" stroke="#000" stroke-width="1.5" />
<line x1="281.50" y1="1057.10" x2="281.50" y2="1067.85" stroke="#000" stroke-width="1.5" />
<line x1="291.25" y1="1057.10" x2="291.25" y2="1067.85" stroke="#000" stroke-width="1.5" />
<line x1="300.00" y1="1057.10" x2="300.00" y2="1067.85" stroke="#000" stroke-width="1.5" />
<line x1="308.50" y1="1057.10" x2="308.50" y2="1067.85" stroke="#000" stroke-width="1.5" />
<line x1="316.75" y1="1057.10" x2="316.75" y2="1067.85" stroke="#000" stroke-width="1.5" />
<line x1="325.50" y1="1057.10" x2="325.50" y2="1067.85" stroke="#000" stroke-width="1.5" />
<line x1="334.00" y1="1057.10" x2="334.00" y2="1067.85" stroke="#000" stroke-width="1.5" />
<ellipse cx="267.00" cy="1060.50" rx="2.00" ry="1.70" fill="none" stroke="#000" stroke-width="1.1" />
<ellipse cx="276.75" cy="1060.50" rx="2.00" ry="1.70" fill="none" stroke="#000" stroke-width="1.1" />
<ellipse cx="286.38" cy="1060.50" rx="2.00" ry="1.70" fill="none" stroke="#000" stroke-width="1.1" />
<ellipse cx="295.62" cy="1060.50" rx="2.00" ry="1.70" fill="none" stroke="#000" stroke-width="1.1" />
<ellipse cx="304.25" cy="1060.50" rx="2.00" ry="1.70" fill="none" stroke="#000" stroke-width="1.1" />
<ellipse cx="312.62" cy="1060.50" rx="2.00" ry="1.70" fill="none" stroke="#000" stroke-width="1.1" />
<ellipse cx="321.12" cy="1060.50" rx="2.00" ry="1.70" fill="none" stroke="#000" stroke-width="1.1" />
<ellipse cx="329.75" cy="1060.50" rx="2.00" ry="1.70" fill="none" stroke="#000" stroke-width="1.1" />
<ellipse cx="337.75" cy="1060.50" rx="2.00" ry="1.70" fill="none" stroke="#000" stroke-width="1.1" />
<rect x="265.25" y="1067.85" width="82.25" height="7.50" fill="none" stroke="#000" stroke-width="1.5" />
<line x1="274.50" y1="1067.85" x2="274.50" y2="1075.35" stroke="#000" stroke-width="1.5" />
<line x1="283.50" y1="1067.85" x2="283.50" y2="1075.35" stroke="#000" stroke-width="1.5" />
<line x1="292.50" y1="1067.85" x2="292.50" y2="1075.35" stroke="#000" stroke-width="1.5" />
<line x1="301.50" y1="1067.85" x2="301.50" y2="1075.35" stroke="#000" stroke-width="1.5" />
<line x1="310.50" y1="1067.85" x2="310.50" y2="1075.35" stroke="#000" stroke-width="1.5" />
<line x1="320.00" y1="1067.85" x2="320.00" y2="1075.35" stroke="#000" stroke-width="1.5" />
<line x1="328.75" y1="1067.85" x2="328.75" y2="1075.35" stroke="#000" stroke-width="1.5" />
<line x1="338.50" y1="1067.85" x2="338.50" y2="1075.35" stroke="#000" stroke-width="1.5" />
<rect x="265.25" y="1075.35" width="84.25" height="10.20" fill="none" stroke="#000" stroke-width="1.5" />
<line x1="265.25" y1="1077.90" x2="349.50" y2="1077.90" stroke="#000" stroke-width="1.0" />
<line x1="265.25" y1="1085.20" x2="349.50" y2="1085.20" stroke="#000" stroke-width="1.6" />
<line x1="266.05" y1="1085.10" x2="268.45" y2="1078.00" stroke="#000" stroke-width="1.5" />
<line x1="275.30" y1="1085.10" x2="277.70" y2="1078.00" stroke="#000" stroke-width="1.5" />
<line x1="284.30" y1="1085.10" x2="286.70" y2="1078.00" stroke="#000" stroke-width="1.5" />
<line x1="293.30" y1="1085.10" x2="295.70" y2="1078.00" stroke="#000" stroke-width="1.5" />
<line x1="302.30" y1="1085.10" x2="304.70" y2="1078.00" stroke="#000" stroke-width="1.5" />
<line x1="311.30" y1="1085.10" x2="313.70" y2="1078.00" stroke="#000" stroke-width="1.5" />
<line x1="320.80" y1="1085.10" x2="323.20" y2="1078.00" stroke="#000" stroke-width="1.5" />
<line x1="329.55" y1="1085.10" x2="331.95" y2="1078.00" stroke="#000" stroke-width="1.5" />
<line x1="339.30" y1="1085.10" x2="341.70" y2="1078.00" stroke="#000" stroke-width="1.5" />
<rect x="265.25" y="1085.80" width="82.00" height="6.05" fill="none" stroke="#000" stroke-width="1.5" />
<line x1="274.50" y1="1085.80" x2="274.50" y2="1091.85" stroke="#000" stroke-width="1.5" />
<line x1="283.50" y1="1085.80" x2="283.50" y2="1091.85" stroke="#000" stroke-width="1.5" />
<line x1="292.50" y1="1085.80" x2="292.50" y2="1091.85" stroke="#000" stroke-width="1.5" />
<line x1="301.50" y1="1085.80" x2="301.50" y2="1091.85" stroke="#000" stroke-width="1.5" />
<line x1="310.50" y1="1085.80" x2="310.50" y2="1091.85" stroke="#000" stroke-width="1.5" />
<line x1="320.00" y1="1085.80" x2="320.00" y2="1091.85" stroke="#000" stroke-width="1.5" />
<line x1="328.75" y1="1085.80" x2="328.75" y2="1091.85" stroke="#000" stroke-width="1.5" />
<line x1="338.50" y1="1085.80" x2="338.50" y2="1091.85" stroke="#000" stroke-width="1.5" />
<rect x="263.30" y="1091.85" width="79.20" height="12.00" fill="none" stroke="#000" stroke-width="1.5" />
<line x1="272.00" y1="1091.85" x2="272.00" y2="1103.85" stroke="#000" stroke-width="1.5" />
<line x1="282.25" y1="1091.85" x2="282.25" y2="1103.85" stroke="#000" stroke-width="1.5" />
<line x1="291.50" y1="1091.85" x2="291.50" y2="1103.85" stroke="#000" stroke-width="1.5" />
<line x1="300.50" y1="1091.85" x2="300.50" y2="1103.85" stroke="#000" stroke-width="1.5" />
<line x1="309.00" y1="1091.85" x2="309.00" y2="1103.85" stroke="#000" stroke-width="1.5" />
<line x1="317.50" y1="1091.85" x2="317.50" y2="1103.85" stroke="#000" stroke-width="1.5" />
<line x1="326.25" y1="1091.85" x2="326.25" y2="1103.85" stroke="#000" stroke-width="1.5" />
<line x1="334.50" y1="1091.85" x2="334.50" y2="1103.85" stroke="#000" stroke-width="1.5" />
<ellipse cx="267.65" cy="1100.10" rx="2.00" ry="1.80" fill="none" stroke="#000" stroke-width="1.1" />
<ellipse cx="277.12" cy="1100.10" rx="2.00" ry="1.80" fill="none" stroke="#000" stroke-width="1.1" />
<ellipse cx="286.88" cy="1100.10" rx="2.00" ry="1.80" fill="none" stroke="#000" stroke-width="1.1" />
<ellipse cx="296.00" cy="1100.10" rx="2.00" ry="1.80" fill="none" stroke="#000" stroke-width="1.1" />
<ellipse cx="304.75" cy="1100.10" rx="2.00" ry="1.80" fill="none" stroke="#000" stroke-width="1.1" />
<ellipse cx="313.25" cy="1100.10" rx="2.00" ry="1.80" fill="none" stroke="#000" stroke-width="1.1" />
<ellipse cx="321.88" cy="1100.10" rx="2.00" ry="1.80" fill="none" stroke="#000" stroke-width="1.1" />
<ellipse cx="330.38" cy="1100.10" rx="2.00" ry="1.80" fill="none" stroke="#000" stroke-width="1.1" />
<ellipse cx="338.50" cy="1100.10" rx="2.00" ry="1.80" fill="none" stroke="#000" stroke-width="1.1" />
<path d="M304.4,1079.6 L304.3,1115.6 Q304.6,1123.6 307.2,1131.6 Q309.4,1138.6 309.5,1152.6 L329.4,1152.6 Q329.2,1142.6 332.5,1135.6 Q336.6,1127.6 337.2,1121.6 Q337.4,1114.6 334.2,1113.0 L316.4,1106.8 L312,1112.8 L311.2,1081.6 Z" fill="#fff" stroke="none"/>
<path d="M304.4,1079.6 L304.3,1115.6 Q304.6,1123.6 307.2,1131.6 Q309.4,1138.6 309.5,1151.6 M329.4,1151.6 Q329.2,1142.6 332.5,1135.6 Q336.6,1127.6 337.2,1121.6 Q337.4,1114.6 334.2,1113.0 Q331.6,1111.6 330.8,1112.6 Q330.6,1108.2 327.2,1107.8 Q324.8,1107.6 324.6,1109.2 Q323.4,1104.8 320,1104.9 Q317.6,1105.0 316.4,1106.8 L312,1112.8 L311.2,1081.6" fill="none" stroke="#000" stroke-width="1.3" stroke-linejoin="round" stroke-linecap="round" />
<path d="M324.6,1109.2 L323.8,1115.8 M330.8,1112.6 L330.6,1117.6" fill="none" stroke="#000" stroke-width="1.2" stroke-linejoin="round" stroke-linecap="round" />
<circle cx="307.60" cy="1078.40" r="2.70" fill="#fff" stroke="#000" stroke-width="1.2" />
<path d="M305.4,1086.1 Q307.6,1087.0 309.8,1086.1" fill="none" stroke="#000" stroke-width="1.1" stroke-linejoin="round" stroke-linecap="round" />
<line x1="306.00" y1="1099.00" x2="309.60" y2="1099.00" stroke="#000" stroke-width="1.0" />
<line x1="306.00" y1="1101.20" x2="309.60" y2="1101.20" stroke="#000" stroke-width="1.0" />
<path d="M382.4,1110.5 Q384,1110.3000000000002 384.8,1108.7 Q387.8,1099.9 387.7,1090.6000000000001 Q387.2,1078.9 379.2,1066.1000000000001 L384.8,1063.8000000000002 L365.5,1055.6000000000001 L374.8,1073.4 L376.3,1069.0 Q383.2,1081.9 383.9,1092.4 Q384.2,1100.9 380.4,1108.1000000000001 Q380.6,1110.5 382.4,1110.5 Z" fill="#fff" stroke="#000" stroke-width="1.4" stroke-linejoin="round" stroke-linecap="round" />
</svg>
</body></html>
